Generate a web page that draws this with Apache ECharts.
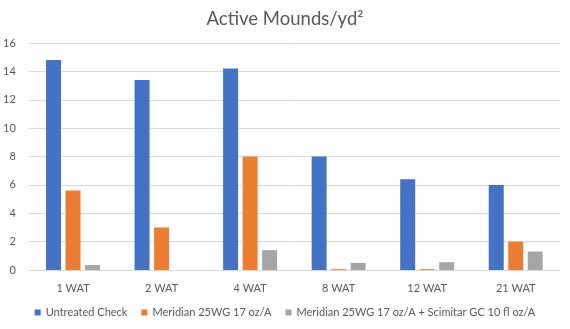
<!DOCTYPE html>
<html><head><meta charset="utf-8">
<script src="https://cdn.jsdelivr.net/npm/echarts@6/dist/echarts.min.js"></script>
<style>html,body{margin:0;padding:0;background:#fff}#c{width:570px;height:329px}</style>
</head><body><div id="c"></div>
<script>
const categories = ['1 WAT','2 WAT','4 WAT','8 WAT','12 WAT','21 WAT'];
const untreated = [14.8, 13.4, 14.2, 8.0, 6.4, 6.0];
const meridian = [5.6, 3.0, 8.0, 0.06, 0.06, 2.0];
const meridianScimitar = [0.35, 0, 1.4, 0.5, 0.55, 1.3];
const seriesNames = ['Untreated Check','Meridian 25WG 17 oz/A','Meridian 25WG 17 oz/A + Scimitar GC 10 fl oz/A'];
const yTicks = [0,2,4,6,8,10,12,14,16];
const colors = ['#4472C4','#ED7D31','#A5A5A5'];
const font = 'Lato, "Open Sans", sans-serif';
const chart = echarts.init(document.getElementById('c'), null, {renderer:'canvas'});
const mk = (name, data, i) => ({
  name, type:'bar', data, barWidth:15, barGap:'30%',
  itemStyle:{color:colors[i]}, animation:false
});
chart.setOption({
  animation:false,
  title:{text:'Active Mounds/yd²', left:'center', top:5,
    textStyle:{color:'#595959', fontSize:18.5, fontWeight:'normal', fontFamily:font}},
  legend:{bottom:6, left:'center', itemWidth:6, itemHeight:6, itemGap:14, icon:'rect',
    textStyle:{color:'#595959', fontSize:11, fontFamily:font},
    data:seriesNames},
  grid:{left:28, right:10, top:43, bottom:59, containLabel:false},
  xAxis:{type:'category', data:categories,
    axisLine:{lineStyle:{color:'#D9D9D9'}}, axisTick:{show:false},
    axisLabel:{color:'#595959', fontSize:11, fontFamily:font, margin:13}},
  yAxis:{type:'value', min:yTicks[0], max:yTicks[yTicks.length-1], interval:2,
    axisLine:{show:false}, axisTick:{show:false},
    splitLine:{lineStyle:{color:'#D9D9D9'}},
    axisLabel:{color:'#595959', fontSize:11, fontFamily:font, margin:13}},
  series:[mk(seriesNames[0], untreated,0), mk(seriesNames[1], meridian,1), mk(seriesNames[2], meridianScimitar,2)]
});
</script></body></html>
